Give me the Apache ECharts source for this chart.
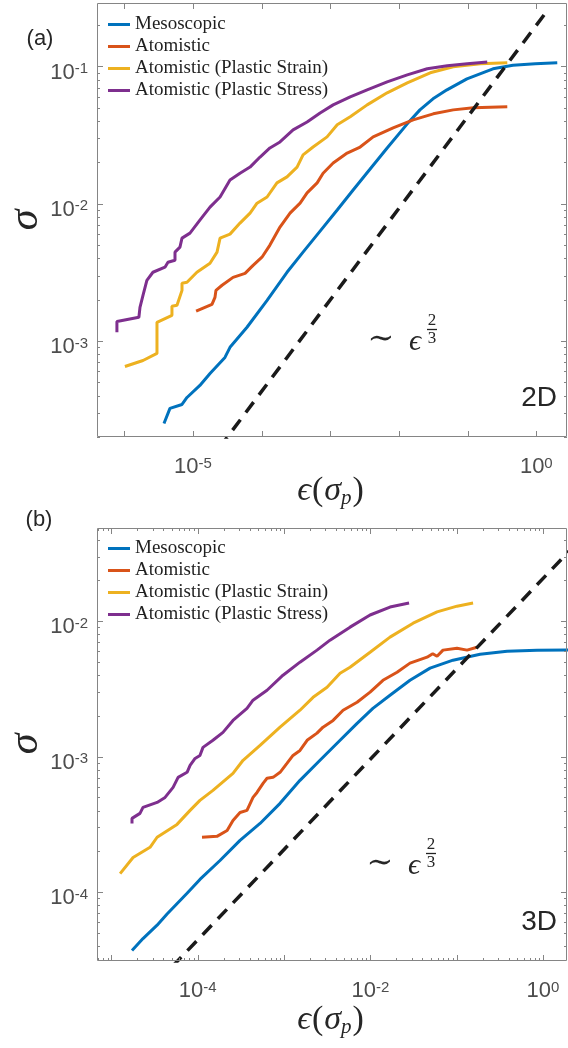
<!DOCTYPE html>
<html>
<head>
<meta charset="utf-8">
<script src="https://cdn.jsdelivr.net/npm/echarts@6/dist/echarts.min.js"></script>
<style>
  html, body { margin: 0; padding: 0; background: #fff; }
  #chart { width: 568px; height: 1048px; }
</style>
</head>
<body>
<div id="chart"></div>
<script>
// (a) 2D
var meso2dX = [3.78e-6, 4.62e-6, 6.92e-6, 8.18e-6, 1.26e-5, 1.77e-5, 2.92e-5, 3.46e-5, 6.12e-5, 1.20e-4, 2.34e-4, 4.01e-4, 7.10e-4, 1.26e-3, 2.15e-3, 3.80e-3, 6.73e-3, 1.32e-2, 2.02e-2, 3.13e-2, 5.0e-2, 9.77e-2, 0.234, 0.457, 0.966, 2.02];
var meso2dY = [2.51e-4, 3.23e-4, 3.45e-4, 3.88e-4, 4.75e-4, 5.81e-4, 7.60e-4, 9.0e-4, 1.26e-3, 1.98e-3, 3.17e-3, 4.44e-3, 6.32e-3, 9.0e-3, 1.26e-2, 1.79e-2, 2.55e-2, 3.82e-2, 4.83e-2, 5.81e-2, 6.76e-2, 8.13e-2, 9.62e-2, 0.102, 0.1047, 0.1064];
var atom2dX = [1.11e-5, 1.89e-5, 2.09e-5, 2.16e-5, 2.65e-5, 3.83e-5, 5.73e-5, 7.50e-5, 1.01e-4, 1.32e-4, 1.85e-4, 2.59e-4, 3.63e-4, 4.59e-4, 6.43e-4, 7.85e-4, 1.10e-3, 1.76e-3, 2.72e-3, 4.21e-3, 8.22e-3, 1.61e-2, 3.16e-2, 6.17e-2, 0.121, 0.378];
var atom2dY = [1.65e-3, 1.85e-3, 2.08e-3, 2.34e-3, 2.55e-3, 2.91e-3, 3.11e-3, 3.56e-3, 4.08e-3, 5.0e-3, 6.76e-3, 8.55e-3, 1.01e-2, 1.20e-2, 1.42e-2, 1.67e-2, 1.98e-2, 2.34e-2, 2.59e-2, 3.07e-2, 3.57e-2, 4.08e-2, 4.52e-2, 4.83e-2, 5.0e-2, 5.08e-2];
var strain2dX = [1.02e-6, 1.87e-6, 2.99e-6, 2.99e-6, 4.94e-6, 4.94e-6, 5.85e-6, 6.92e-6, 6.92e-6, 8.18e-6, 1.14e-5, 1.77e-5, 2.24e-5, 2.48e-5, 3.46e-5, 4.84e-5, 6.78e-5, 8.57e-5, 1.20e-4, 1.67e-4, 2.34e-4, 3.28e-4, 4.01e-4, 5.61e-4, 8.97e-4, 1.26e-3, 1.95e-3, 3.44e-3, 6.73e-3, 1.32e-2, 2.85e-2, 6.17e-2, 0.153, 0.378];
var strain2dY = [6.53e-4, 7.22e-4, 8.13e-4, 1.37e-3, 1.54e-3, 1.79e-3, 1.82e-3, 2.34e-3, 2.64e-3, 2.68e-3, 3.17e-3, 3.69e-3, 4.44e-3, 5.62e-3, 6.01e-3, 7.23e-3, 8.55e-3, 1.01e-2, 1.12e-2, 1.42e-2, 1.57e-2, 1.85e-2, 2.27e-2, 2.59e-2, 3.07e-2, 3.76e-2, 4.30e-2, 5.25e-2, 6.43e-2, 7.60e-2, 9.0e-2, 9.95e-2, 0.1047, 0.1064];
var stress2dX = [7.80e-7, 7.80e-7, 1.63e-6, 1.69e-6, 1.87e-6, 2.13e-6, 2.61e-6, 3.91e-6, 4.32e-6, 5.47e-6, 5.47e-6, 6.46e-6, 6.92e-6, 9.04e-6, 1.26e-5, 1.77e-5, 2.48e-5, 3.46e-5, 4.84e-5, 6.78e-5, 9.48e-5, 1.32e-4, 1.85e-4, 2.87e-4, 4.59e-4, 7.10e-4, 1.10e-3, 1.95e-3, 3.44e-3, 6.73e-3, 1.32e-2, 2.58e-2, 5.05e-2, 9.86e-2, 0.193];
var stress2dY = [1.16e-3, 1.39e-3, 1.49e-3, 1.76e-3, 2.15e-3, 2.77e-3, 3.17e-3, 3.45e-3, 3.75e-3, 3.88e-3, 4.44e-3, 4.83e-3, 5.62e-3, 6.11e-3, 7.60e-3, 9.46e-3, 1.12e-2, 1.49e-2, 1.67e-2, 1.85e-2, 2.19e-2, 2.55e-2, 2.82e-2, 3.45e-2, 3.94e-2, 4.59e-2, 5.25e-2, 6.01e-2, 6.76e-2, 7.73e-2, 8.69e-2, 9.62e-2, 0.1012, 0.1047, 0.108];
var dash2dX = [1e-5, 1.35];
var dash2dY = [9.26e-5, 0.244];

// (b) 3D
var meso3dX = [1.73e-5, 2.32e-5, 3.38e-5, 4.41e-5, 7.52e-5, 1.06e-4, 1.81e-4, 3.09e-4, 5.27e-4, 8.99e-4, 1.53e-3, 2.61e-3, 4.46e-3, 7.02e-3, 1.07e-2, 1.69e-2, 2.88e-2, 4.92e-2, 9.08e-2, 0.187, 0.384, 0.855, 2.5];
var meso3dY = [3.70e-5, 4.54e-5, 5.70e-5, 6.90e-5, 9.8e-5, 1.24e-4, 1.71e-4, 2.41e-4, 3.21e-4, 4.52e-4, 6.68e-4, 9.4e-4, 1.32e-3, 1.76e-3, 2.27e-3, 2.84e-3, 3.66e-3, 4.50e-3, 5.15e-3, 5.70e-3, 6.0e-3, 6.11e-3, 6.12e-3];
var atom3dX = [1.12e-4, 1.67e-4, 2.19e-4, 2.56e-4, 3.09e-4, 3.72e-4, 4.37e-4, 4.86e-4, 5.71e-4, 6.35e-4, 7.46e-4, 8.99e-4, 1.08e-3, 1.27e-3, 1.53e-3, 1.85e-3, 2.41e-3, 2.83e-3, 3.70e-3, 4.83e-3, 7.02e-3, 9.93e-3, 1.40e-2, 2.04e-2, 2.88e-2, 4.54e-2, 5.28e-2, 5.93e-2, 6.95e-2, 0.101, 0.132, 0.172];
var atom3dY = [2.54e-4, 2.58e-4, 2.85e-4, 3.38e-4, 3.87e-4, 4.01e-4, 5.0e-4, 5.44e-4, 6.35e-4, 6.92e-4, 7.03e-4, 7.66e-4, 8.91e-4, 1.02e-3, 1.11e-3, 1.32e-3, 1.49e-3, 1.65e-3, 1.85e-3, 2.20e-3, 2.52e-3, 2.99e-3, 3.66e-3, 4.20e-3, 4.90e-3, 5.42e-3, 5.75e-3, 5.50e-3, 6.11e-3, 6.31e-3, 6.11e-3, 6.42e-3];
var strain3dX = [1.26e-5, 1.78e-5, 2.80e-5, 3.38e-5, 5.75e-5, 8.15e-5, 1.06e-4, 1.50e-4, 2.56e-4, 3.35e-4, 5.27e-4, 8.99e-4, 1.53e-3, 2.17e-3, 3.15e-3, 4.46e-3, 5.82e-3, 9.93e-3, 1.69e-2, 3.13e-2, 5.93e-2, 0.101, 0.155];
var strain3dY = [1.37e-4, 1.80e-4, 2.14e-4, 2.54e-4, 3.16e-4, 4.01e-4, 4.75e-4, 5.64e-4, 7.53e-4, 9.4e-4, 1.21e-3, 1.65e-3, 2.20e-3, 2.74e-3, 3.25e-3, 4.13e-3, 4.57e-3, 5.90e-3, 7.62e-3, 9.66e-3, 1.17e-2, 1.29e-2, 1.36e-2];
var stress3dX = [1.73e-5, 1.73e-5, 2.14e-5, 2.32e-5, 3.38e-5, 4.18e-5, 5.18e-5, 5.92e-5, 7.52e-5, 8.15e-5, 9.31e-5, 1.06e-4, 1.15e-4, 1.50e-4, 1.96e-4, 2.56e-4, 3.72e-4, 4.37e-4, 6.35e-4, 9.73e-4, 1.53e-3, 2.41e-3, 3.41e-3, 5.82e-3, 9.93e-3, 1.69e-2, 2.81e-2];
var stress3dY = [3.21e-4, 3.50e-4, 3.81e-4, 4.22e-4, 4.59e-4, 5.0e-4, 5.93e-4, 7.03e-4, 7.66e-4, 8.63e-4, 9.70e-4, 1.02e-3, 1.17e-3, 1.32e-3, 1.51e-3, 1.85e-3, 2.27e-3, 2.61e-3, 3.09e-3, 3.99e-3, 4.98e-3, 6.11e-3, 7.24e-3, 9.03e-3, 1.11e-2, 1.27e-2, 1.36e-2];
var dash3dX = [1e-5, 10];
var dash3dY = [9.57e-6, 0.0957];

// axis limits and tick labels (exponents of 10)
var xRange = [[4e-7, 2.8], [6.8e-6, 1.9]];
var yRange = [[2e-4, 0.29], [3.1e-5, 0.0487]];
var xMinor = [false, true];
var yMinor = [true, true];
var xLabelExp = [[-5, 0], [-4, -2, 0]];
var yLabelExp = [[-1, -2, -3], [-2, -3, -4]];

var names = ['Mesoscopic', 'Atomistic', 'Atomistic (Plastic Strain)', 'Atomistic (Plastic Stress)'];
var colors = ['#0072BD', '#D95319', '#EDB120', '#7E2F8E'];

var axisColor = '#858585';
var labelColor = '#4d4d4d';
var textColor = '#262626';

var grids = [
  { left: 97, top: 3, width: 470, height: 434 },
  { left: 97, top: 528, width: 470, height: 433 }
];

function pts(xs, ys) {
  return xs.map(function (x, i) { return [x, ys[i]]; });
}

var panels = [
  [pts(meso2dX, meso2dY), pts(atom2dX, atom2dY), pts(strain2dX, strain2dY), pts(stress2dX, stress2dY)],
  [pts(meso3dX, meso3dY), pts(atom3dX, atom3dY), pts(strain3dX, strain3dY), pts(stress3dX, stress3dY)]
];
var dashes = [pts(dash2dX, dash2dY), pts(dash3dX, dash3dY)];

var series = [];
panels.forEach(function (p, g) {
  p.forEach(function (d, i) {
    series.push({
      name: names[i], type: 'line', xAxisIndex: g, yAxisIndex: g, data: d,
      showSymbol: false, symbol: 'none', silent: true,
      lineStyle: { width: 3, color: colors[i] },
      itemStyle: { color: colors[i] }
    });
  });
  series.push({
    name: 'fit', type: 'line', xAxisIndex: g, yAxisIndex: g, data: dashes[g],
    showSymbol: false, symbol: 'none', silent: true,
    lineStyle: { width: 3.5, color: '#1a1a1a', type: [13, 9] }
  });
});

function hiddenAxis(g, r) {
  return {
    type: 'log', logBase: 10, gridIndex: g, min: r[0], max: r[1],
    axisLine: { show: false }, axisTick: { show: false },
    axisLabel: { show: false }, splitLine: { show: false }
  };
}

function legendAt(top) {
  return {
    orient: 'vertical', left: 108, top: top, padding: 0, icon: 'rect',
    itemWidth: 22, itemHeight: 3, itemGap: 3,
    textStyle: { fontFamily: 'Liberation Serif', fontSize: 19, lineHeight: 19, color: '#1f1f1f' },
    data: names
  };
}

var chart = echarts.init(document.getElementById('chart'));
chart.setOption({
  animation: false,
  grid: grids.map(function (g) { return { left: g.left, top: g.top, width: g.width, height: g.height, show: false }; }),
  xAxis: [hiddenAxis(0, xRange[0]), hiddenAxis(1, xRange[1])],
  yAxis: [hiddenAxis(0, yRange[0]), hiddenAxis(1, yRange[1])],
  legend: [legendAt(15), legendAt(539)],
  series: series
});

// MATLAB-like box, inward ticks and 10^n labels
function tickVals(r, minor) {
  var out = [];
  var e0 = Math.floor(Math.log10(r[0])), e1 = Math.ceil(Math.log10(r[1]));
  for (var e = e0; e <= e1; e++) {
    for (var k = 1; k <= (minor ? 9 : 1); k++) {
      var v = k * Math.pow(10, e);
      if (v >= r[0] && v <= r[1]) out.push({ v: v, len: k === 1 ? 6 : 3 });
    }
  }
  return out;
}

function seg(x1, y1, x2, y2) {
  return { type: 'line', silent: true, z: 100, shape: { x1: x1, y1: y1, x2: x2, y2: y2 }, style: { stroke: axisColor, lineWidth: 1 } };
}

var tickRich = {
  b: { fontFamily: 'Liberation Sans', fontSize: 22, lineHeight: 22, fill: labelColor },
  s: { fontFamily: 'Liberation Sans', fontSize: 15, lineHeight: 6, verticalAlign: 'top', fill: labelColor }
};

function powLabel(x, y, e, align) {
  return {
    type: 'text', silent: true, z: 100, x: x, y: y,
    style: { text: '{b|10}{s|' + e + '}', rich: tickRich, align: align, textAlign: align, verticalAlign: 'middle', textVerticalAlign: 'middle' }
  };
}

function txt(x, y, text, font, align, extra) {
  var el = {
    type: 'text', silent: true, z: 100, x: x, y: y,
    style: { text: text, font: font, fill: textColor, align: align || 'center', textAlign: align || 'center', verticalAlign: 'middle', textVerticalAlign: 'middle' }
  };
  for (var k in extra) el[k] = extra[k];
  return el;
}

function powerNote(cx, cy) {
  var serif = '"Liberation Serif", "DejaVu Serif", serif';
  return [
    txt(cx, cy, '\u223C', '32px ' + serif),
    txt(cx + 34, cy + 2, '\u03F5', 'italic 30px ' + serif),
    txt(cx + 51, cy - 19, '2', '17px ' + serif),
    { type: 'line', silent: true, z: 100, shape: { x1: cx + 46, y1: cy - 10.5, x2: cx + 56, y2: cy - 10.5 }, style: { stroke: '#222', lineWidth: 1.3 } },
    txt(cx + 51, cy - 1, '3', '17px ' + serif)
  ];
}

function decor() {
  var els = [];
  grids.forEach(function (gr, g) {
    var L = gr.left, T = gr.top, R = L + gr.width, B = T + gr.height;
    els.push({ type: 'rect', silent: true, z: 100, shape: { x: L + 0.5, y: T + 0.5, width: gr.width - 1, height: gr.height - 1 }, style: { fill: 'none', stroke: axisColor, lineWidth: 1 } });
    tickVals(xRange[g], xMinor[g]).forEach(function (t) {
      var px = Math.round(chart.convertToPixel({ xAxisIndex: g }, t.v)) + 0.5;
      els.push(seg(px, B, px, B - t.len));
      els.push(seg(px, T, px, T + t.len));
    });
    tickVals(yRange[g], yMinor[g]).forEach(function (t) {
      var py = Math.round(chart.convertToPixel({ yAxisIndex: g }, t.v)) + 0.5;
      els.push(seg(L, py, L + t.len, py));
      els.push(seg(R, py, R - t.len, py));
    });
    xLabelExp[g].forEach(function (e) {
      var px = chart.convertToPixel({ xAxisIndex: g }, Math.pow(10, e));
      els.push(powLabel(px, B + 30, e, 'center'));
    });
    yLabelExp[g].forEach(function (e) {
      var py = chart.convertToPixel({ yAxisIndex: g }, Math.pow(10, e));
      els.push(powLabel(L - 9, py + 6, e, 'right'));
    });
  });

  var xTitleRich = {
    e: { fontFamily: 'Liberation Serif, DejaVu Serif', fontStyle: 'italic', fontSize: 34, lineHeight: 36, fill: textColor },
    p: { fontFamily: 'Liberation Serif', fontSize: 34, lineHeight: 36, padding: [0, 1], fill: textColor },
    sub: { fontFamily: 'Liberation Serif', fontStyle: 'italic', fontSize: 21, lineHeight: 19, verticalAlign: 'bottom', fill: textColor }
  };
  [491, 1020].forEach(function (y) {
    els.push({
      type: 'text', silent: true, z: 100, x: 331, y: y,
      style: { text: '{e|\u03F5}{p|(}{e|\u03C3}{sub|p}{p|)}', rich: xTitleRich, align: 'center', textAlign: 'center', verticalAlign: 'middle', textVerticalAlign: 'middle' }
    });
  });
  [220, 744].forEach(function (y) {
    els.push(txt(26, y, '\u03C3', 'italic 42px "Liberation Serif", serif', 'center', { rotation: Math.PI / 2 }));
  });

  els.push(txt(40, 39, '(a)', '22px "Liberation Sans"'));
  els.push(txt(39, 520, '(b)', '22px "Liberation Sans"'));
  els.push(txt(557, 398, '2D', '28px "Liberation Sans"', 'right'));
  els.push(txt(557, 922, '3D', '28px "Liberation Sans"', 'right'));
  els = els.concat(powerNote(381, 340), powerNote(380, 864));
  return els;
}

chart.setOption({ graphic: decor() });
window.addEventListener('resize', function () {
  chart.resize();
});
</script>
</body>
</html>
